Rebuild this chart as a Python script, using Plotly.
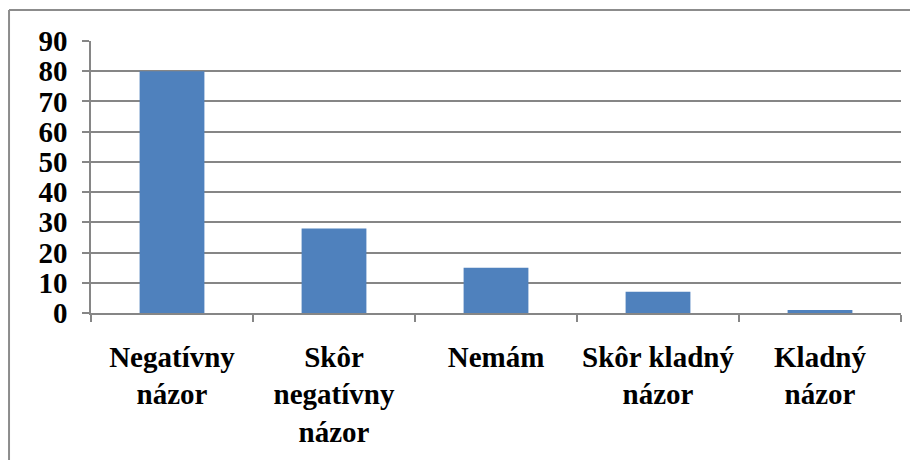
import plotly.graph_objects as go

categories = ["Negatívny<br>názor", "Skôr<br>negatívny<br>názor", "Nemám",
              "Skôr kladný<br>názor", "Kladný<br>názor"]
values = [80, 28, 15, 7, 1]

grid_col = "#868686"
serif = "Liberation Serif"
tick_font = dict(family=serif, size=29, color="black", weight="bold")

fig = go.Figure(go.Bar(x=categories, y=values, marker=dict(color="#4F81BD", line=dict(width=0))))

# page body adds an 8px offset, so the figure is sized to fit the window
fig.update_layout(
    width=910, height=452,
    margin=dict(l=83, r=17, t=33, b=147),
    paper_bgcolor="white", plot_bgcolor="white",
    bargap=0.6,
    showlegend=False,
    font=dict(family=serif, size=29, color="black"),
    xaxis=dict(showline=True, linecolor=grid_col, linewidth=1.5,
               ticks="outside", tickson="boundaries", ticklen=7, tickcolor=grid_col, tickwidth=1.5,
               tickfont=tick_font, ticklabelstandoff=17, showgrid=False, zeroline=False),
    yaxis=dict(range=[0, 90], dtick=10, showline=True, linecolor=grid_col, linewidth=1.5,
               ticks="outside", ticklen=7, tickcolor=grid_col, tickwidth=1.5,
               tickfont=tick_font, ticklabelstandoff=9, showgrid=True, gridcolor=grid_col,
               gridwidth=1.5, zeroline=False),
    shapes=[
        dict(type="line", xref="paper", yref="paper", x0=-0.1012, x1=1.03, y0=1.114, y1=1.114,
             line=dict(color="#8c8c8c", width=2)),
        dict(type="line", xref="paper", yref="paper", x0=-0.1012, x1=-0.1012, y0=1.114, y1=-0.6,
             line=dict(color="#8c8c8c", width=2)),
    ],
)

fig.write_html("out.html")
